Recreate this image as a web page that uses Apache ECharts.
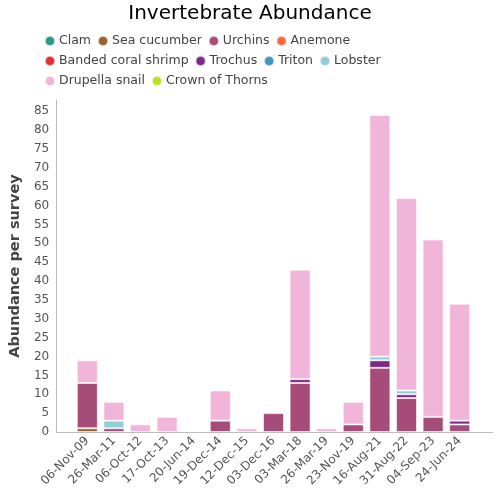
<!DOCTYPE html>
<html><head><meta charset="utf-8">
<script src="https://cdn.jsdelivr.net/npm/echarts@6/dist/echarts.min.js"></script>
<style>html,body{margin:0;padding:0;background:#fff}#c{width:500px;height:500px}</style>
</head><body><div id="c"></div>
<script>
const categories = ['06-Nov-09','26-Mar-11','06-Oct-12','17-Oct-13','20-Jun-14','19-Dec-14','12-Dec-15','03-Dec-16','03-Mar-18','26-Mar-19','23-Nov-19','16-Aug-21','31-Aug-22','04-Sep-23','24-Jun-24'];
const seriesNames = ['Clam','Sea cucumber','Urchins','Anemone','Banded coral shrimp','Trochus','Triton','Lobster','Drupella snail','Crown of Thorns'];
const clam          = [0,0,0,0,0,0,0,0,0,0,0,0,0,0,0];
const seaCucumber   = [1,0,0,0,0,0,0,0,0,0,0,0,0,0,0];
const urchins       = [12,1,0,0,0,3,0,5,13,0,2,17,9,4,2];
const anemone       = [0,0,0,0,0,0,0,0,0,0,0,0,0,0,0];
const bandedShrimp  = [0,0,0,0,0,0,0,0,0,0,0,0,0,0,0];
const trochus       = [0,0,0,0,0,0,0,0,1,0,0,2,1,0,1];
const triton        = [0,0,0,0,0,0,0,0,0,0,0,0,0,0,0];
const lobster       = [0,2,0,0,0,0,0,0,0,0,0,1,1,0,0];
const drupella      = [6,5,2,4,0,8,1,0,29,1,6,64,51,47,31];
const crownOfThorns = [0,0,0,0,0,0,0,0,0,0,0,0,0,0,0];
const yTicks = [0,5,10,15,20,25,30,35,40,45,50,55,60,65,70,75,80,85];

const seriesValues = [clam,seaCucumber,urchins,anemone,bandedShrimp,trochus,triton,lobster,drupella,crownOfThorns];
const colors = ['#2E9688','#9A6330','#A64C79','#F26D45','#DD3333','#7B2A86','#4393C3','#92CDDD','#F2B5DA','#B8E12A'];
const font = 'DejaVu Sans';

const chart = echarts.init(document.getElementById('c'), null, {renderer:'canvas'});
chart.setOption({
  animation:false,
  title:{text:'Invertebrate Abundance',left:'center',top:-1,textStyle:{fontFamily:font,fontSize:20,fontWeight:'normal',color:'#000'}},
  legend:{left:39,top:29,width:350,itemWidth:10,itemHeight:10,itemGap:6,icon:'circle',
    textStyle:{fontFamily:font,fontSize:12.5,color:'#444',lineHeight:14,padding:[0,0,0,-1]},
    data:seriesNames},
  color:colors,
  grid:[
    {left:55,right:7,top:100,bottom:68},
    {left:74,right:27,top:100,bottom:68}
  ],
  xAxis:[
    {gridIndex:0,type:'value',min:0,max:1,axisLine:{show:true,onZero:false,lineStyle:{color:'#bdbdbd'}},axisTick:{show:false},axisLabel:{show:false},splitLine:{show:false}},
    {gridIndex:1,type:'category',data:categories,axisLine:{show:false},axisTick:{show:false},
      axisLabel:{rotate:45,fontFamily:font,fontSize:12,color:'#555',margin:7,interval:0}}
  ],
  yAxis:[
    {gridIndex:0,type:'value',min:0,max:88,interval:5,
      name:'Abundance per survey',nameLocation:'middle',nameGap:23,
      nameTextStyle:{fontFamily:font,fontSize:14.5,fontWeight:'bold',color:'#444'},
      axisLine:{show:true,lineStyle:{color:'#bdbdbd'}},axisTick:{show:false},splitLine:{show:false},
      axisLabel:{fontFamily:font,fontSize:12,color:'#555',margin:7,
        formatter:v=>yTicks.includes(v)?String(v):''}},
    {gridIndex:1,type:'value',min:0,max:88,show:false}
  ],
  series: seriesNames.map((n,i)=>({
    name:n,type:'bar',stack:'total',xAxisIndex:1,yAxisIndex:1,barWidth:21,
    itemStyle:{color:colors[i],borderColor:'rgba(255,255,255,0.6)',borderWidth:1},
    data:seriesValues[i].map(v=>v===0?null:v)
  }))
});
</script></body></html>
